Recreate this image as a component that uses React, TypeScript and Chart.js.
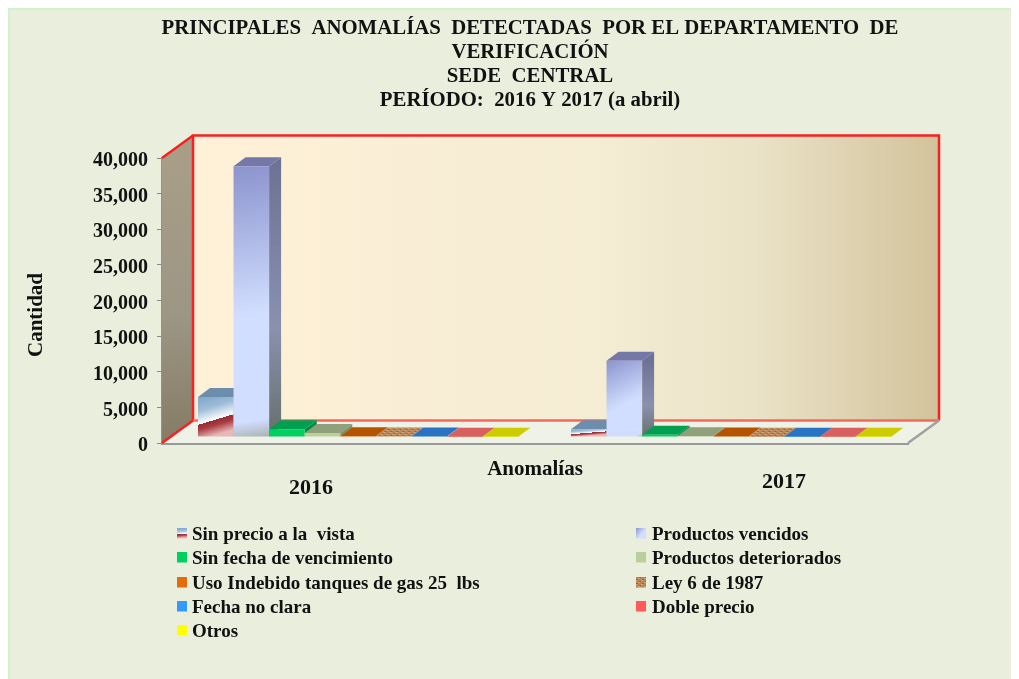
import React, { useEffect, useRef } from "react";
import { Chart, registerables } from "chart.js";

Chart.register(...registerables);

const periods = ["2016", "2017"];
const titleLines = [
  "PRINCIPALES  ANOMALÍAS  DETECTADAS  POR EL DEPARTAMENTO  DE",
  "VERIFICACIÓN",
  "SEDE  CENTRAL",
  "PERÍODO:  2016 Y 2017 (a abril)",
];
const seriesNames = [
  "Sin precio a la  vista",
  "Productos vencidos",
  "Sin fecha de vencimiento",
  "Productos deteriorados",
  "Uso Indebido tanques de gas 25  lbs",
  "Ley 6 de 1987",
  "Fecha no clara",
  "Doble precio",
  "Otros",
];
const sinPrecio = [5600, 1100];
const vencidos = [38000, 10700];
const sinFecha = [1100, 300];
const deteriorados = [550, 100];
const usoIndebido = [120, 60];
const ley6 = [80, 40];
const fechaNoClara = [60, 40];
const doblePrecio = [40, 30];
const otros = [30, 20];
const seriesValues = [sinPrecio, vencidos, sinFecha, deteriorados, usoIndebido, ley6, fechaNoClara, doblePrecio, otros];

const frontColors = ["#8FB2D2", "#C4CFF5", "#00D060", "#BBCF9A", "#E46C0A", "#B98A60", "#3399FF", "#FF5A5A", "#FFFF00"];
const topColors = ["#6C8DAC", "#7478A8", "#00A050", "#8FA07A", "#B55300", "#A0724E", "#2873C4", "#D8605E", "#CCCC00"];
const sideColors = ["#5F7F9E", "#7E84A6", "#008C48", "#7F8F6C", "#A04A00", "#8E6444", "#2264AA", "#C05050", "#B0B000"];

const FONT = "'Liberation Serif', serif";
const INK = "#111111";
const BAR_DX = 9.5;
const BAR_DY = -6;
const DEPTH_X = 12;
const DEPTH_Y = -9;
const WALL_DX = 31;
const WALL_DY = -22.5;

function poly(ctx: CanvasRenderingContext2D, pts: number[][], fill: any) {
  ctx.beginPath();
  pts.forEach((p, i) => (i ? ctx.lineTo(p[0], p[1]) : ctx.moveTo(p[0], p[1])));
  ctx.closePath();
  ctx.fillStyle = fill;
  ctx.fill();
}

function line(ctx: CanvasRenderingContext2D, pts: number[][], color: string, w: number) {
  ctx.beginPath();
  pts.forEach((p, i) => (i ? ctx.lineTo(p[0], p[1]) : ctx.moveTo(p[0], p[1])));
  ctx.strokeStyle = color;
  ctx.lineWidth = w;
  ctx.stroke();
}

function makeSinPrecioFill(ctx: CanvasRenderingContext2D, x: number, top: number, bottom: number) {
  const h = bottom - top;
  const slant = h > 20 ? 0.3 : 0.08;
  const g = ctx.createLinearGradient(x, top, x + h * slant, bottom);
  g.addColorStop(0, "#7FA6CC");
  g.addColorStop(0.32, "#9DBCD8");
  g.addColorStop(0.64, "#FFFFFF");
  g.addColorStop(0.64, "#9A2B30");
  g.addColorStop(0.76, "#A83C40");
  g.addColorStop(1, "#E8B8B8");
  return g;
}

function makeVencidosFill(ctx: CanvasRenderingContext2D, x: number, w: number, top: number, bottom: number) {
  const g = ctx.createLinearGradient(x, top, x + w * 1.1, bottom);
  g.addColorStop(0, "#8C94CE");
  g.addColorStop(0.55, "#D2DEFF");
  g.addColorStop(0.93, "#D2DEFF");
  g.addColorStop(1, "#A8B2AE");
  return g;
}

function makeLeyPattern(ctx: CanvasRenderingContext2D) {
  const c = document.createElement("canvas");
  c.width = 6;
  c.height = 4;
  const p = c.getContext("2d")!;
  p.fillStyle = "#B8875A";
  p.fillRect(0, 0, 6, 4);
  p.fillStyle = "#946640";
  p.fillRect(1, 1, 2, 1);
  p.fillRect(4, 3, 2, 1);
  p.fillStyle = "#D4A67A";
  p.fillRect(3, 0, 2, 1);
  p.fillRect(0, 2, 2, 1);
  return ctx.createPattern(c, "repeat");
}

const scenePlugin = {
  id: "scene3d",
  afterLayout(chart: any) {
    // the four title lines are centred on the whole figure, not on the plot
    if (chart.titleBlock) {
      chart.titleBlock.left = 0;
      chart.titleBlock.right = 1044;
      chart.titleBlock.width = 1044;
    }
  },
  beforeDraw(chart: any) {
    const { ctx, width, height } = chart;
    ctx.save();
    ctx.fillStyle = "#EAEEDD";
    ctx.fillRect(0, 0, width, height);
    ctx.fillStyle = "#D2F3C8";
    ctx.fillRect(0, 0, width, 2);
    ctx.fillRect(0, 0, 2, height);
    ctx.restore();
  },
  beforeDatasetsDraw(chart: any) {
    const { ctx, chartArea: a } = chart;
    const { left: l, right: r, top: t, bottom: b } = a;
    const wx = WALL_DX;
    const wy = WALL_DY;
    ctx.save();
    ctx.filter = "blur(0.5px)";

    // back wall
    const wall = ctx.createLinearGradient(l + wx, 0, r + wx, 0);
    wall.addColorStop(0, "#FFF1D8");
    wall.addColorStop(0.55, "#F4ECD3");
    wall.addColorStop(0.75, "#EBE3C8");
    wall.addColorStop(1, "#D2C39B");
    poly(ctx, [[l + wx, t + wy], [r + wx, t + wy], [r + wx, b + wy], [l + wx, b + wy]], wall);

    // side wall
    const side = ctx.createLinearGradient(l, t, l + wx, b);
    side.addColorStop(0, "#A89E88");
    side.addColorStop(0.55, "#9C9684");
    side.addColorStop(1, "#857B66");
    poly(ctx, [[l, t], [l + wx, t + wy], [l + wx, b + wy], [l, b]], side);

    // floor
    poly(ctx, [[l, b], [l + wx, b + wy], [r + wx, b + wy], [r, b]], "#EFF2E6");

    // red frame
    line(ctx, [[l + wx, b + wy], [l + wx, t + wy], [r + wx, t + wy], [r + wx, b + wy]], "#F82020", 2.5);
    line(ctx, [[l + wx, b + wy], [r + wx, b + wy]], "#F26A5E", 2.5);
    line(ctx, [[l, t], [l + wx, t + wy]], "#F82020", 2.5);
    line(ctx, [[l, b], [l + wx, b + wy]], "#F82020", 2.5);
    line(ctx, [[r, b], [r + wx, b + wy]], "#A0A0A0", 2.5);

    // bars: left to right, side and top faces first, then the library's own bar
    ctx.translate(BAR_DX, BAR_DY);
    const ley = makeLeyPattern(ctx);
    const n = chart.data.datasets.length;
    for (let i = 0; i < n; i++) {
      const meta = chart.getDatasetMeta(i);
      meta.data.forEach((el: any) => {
        const bl = el.x - el.width / 2;
        const br = el.x + el.width / 2;
        let sideFill: any = sideColors[i];
        if (i === 1) {
          const g = ctx.createLinearGradient(0, el.y, 0, el.base);
          g.addColorStop(0, "#6E7396");
          g.addColorStop(0.6, "#8A90AE");
          g.addColorStop(1, "#66706A");
          sideFill = g;
        }
        poly(ctx, [[br, el.y], [br + DEPTH_X, el.y + DEPTH_Y], [br + DEPTH_X, el.base + DEPTH_Y], [br, el.base]], sideFill);
        poly(ctx, [[bl, el.y], [bl + DEPTH_X, el.y + DEPTH_Y], [br + DEPTH_X, el.y + DEPTH_Y], [br, el.y]], i === 5 ? ley : topColors[i]);
      });
      meta.controller.draw();
    }
    ctx.restore();
    return false;
  },
  afterDraw(chart: any) {
    const { ctx, scales } = chart;
    ctx.save();
    ctx.fillStyle = INK;
    ctx.textBaseline = "middle";

    // period labels
    ctx.font = `bold 22px ${FONT}`;
    ctx.textAlign = "center";
    const labelShift = [-37.5, 62.5];
    const labelY = [480, 474];
    periods.forEach((p, i) => {
      ctx.fillText(p, scales.x.getPixelForValue(i) + labelShift[i], labelY[i]);
    });

    // vertical axis title
    ctx.save();
    ctx.translate(29, 307);
    ctx.rotate(-Math.PI / 2);
    ctx.font = `bold 21px ${FONT}`;
    ctx.fillText("Cantidad", 0, 0);
    ctx.restore();

    // legend in two columns
    ctx.font = `bold 19px ${FONT}`;
    ctx.textAlign = "left";
    const colX = [169, 628];
    const textGap = [15, 16];
    const rowY = [527, 551, 576, 600, 624];
    chart.data.datasets.forEach((ds: any, i: number) => {
      const x = colX[i % 2];
      const y = rowY[Math.floor(i / 2)];
      let fill: any = i === 5 ? makeLeyPattern(ctx) : frontColors[i];
      if (i === 0) fill = makeSinPrecioFill(ctx, x, y - 7, y + 3);
      if (i === 1) fill = makeVencidosFill(ctx, x, 10, y - 7, y + 3);
      ctx.fillStyle = fill;
      ctx.fillRect(x, y - 7, 10, 10.5);
      ctx.fillStyle = INK;
      ctx.fillText(ds.label, x + textGap[i % 2], y);
    });
    ctx.restore();
  },
};

export default function App() {
  const ref = useRef<HTMLCanvasElement | null>(null);
  useEffect(() => {
    const canvas = ref.current!;
    const ctx2d = canvas.getContext("2d")!;
    const leyFill = makeLeyPattern(ctx2d);
    const datasets = seriesNames.map((name, i) => ({
      label: name,
      data: seriesValues[i],
      borderWidth: 0,
      backgroundColor:
        i === 0 || i === 1
          ? (c: any) => {
              if (c.type !== "data") return frontColors[i];
              const sx = c.chart.scales.x;
              const sy = c.chart.scales.y;
              const w = ((sx.width / 2) * 0.858) / 9;
              const x = sx.getPixelForValue(c.dataIndex) + (i - 4.5) * w;
              const top = sy.getPixelForValue(c.raw);
              const bottom = sy.getPixelForValue(0);
              if (![x, w, top, bottom].every(Number.isFinite)) return frontColors[i];
              return i === 0
                ? makeSinPrecioFill(c.chart.ctx, x, top, bottom)
                : makeVencidosFill(c.chart.ctx, x, w, top, bottom);
            }
          : i === 5
          ? leyFill
          : frontColors[i],
    }));
    const chart = new Chart(canvas, {
      type: "bar",
      data: { labels: periods, datasets },
      plugins: [scenePlugin],
      options: {
        animation: false,
        responsive: false,
        devicePixelRatio: 1,
        layout: { padding: { left: 0, right: 111, top: 0, bottom: 0 } },
        datasets: { bar: { categoryPercentage: 0.858, barPercentage: 1 } },
        plugins: {
          legend: { display: false },
          tooltip: { enabled: false },
          title: {
            display: true,
            text: titleLines,
            color: INK,
            font: { family: FONT, size: 20.8, weight: "bold", lineHeight: 24 / 20.8 },
            padding: { top: 9, bottom: 45 },
          },
        },
        scales: {
          x: {
            ticks: { display: false },
            grid: { display: false },
            border: { color: "#999999", width: 3 },
            title: {
              display: true,
              text: "Anomalías",
              color: INK,
              font: { family: FONT, size: 21, weight: "bold" },
              padding: { top: 0, bottom: 197 },
            },
            afterFit: (s: any) => {
              s.height = 236;
            },
          },
          y: {
            min: 0,
            max: 40000,
            ticks: {
              stepSize: 5000,
              color: INK,
              padding: 9,
              labelOffset: 3,
              font: { family: FONT, size: 20, weight: "bold" },
            },
            grid: { drawOnChartArea: false, color: "#888888", tickLength: 5 },
            border: { color: "#B08880", width: 2 },
            afterFit: (s: any) => {
              s.width = 154;
            },
          },
        },
      },
    } as any);
    return () => chart.destroy();
  }, []);
  return (
    <canvas
      ref={ref}
      width={1011}
      height={671}
      style={{ display: "block", width: 1011, height: 671 }}
    />
  );
}
